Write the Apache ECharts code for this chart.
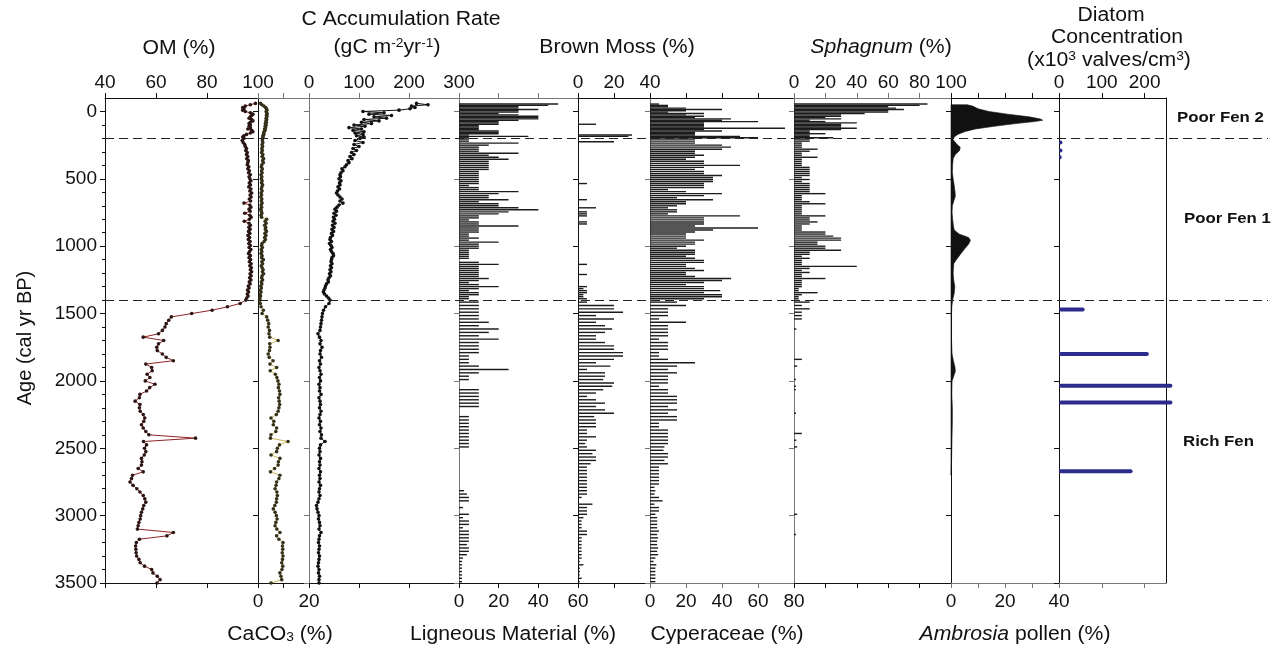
<!DOCTYPE html>
<html>
<head>
<meta charset="utf-8">
<script src="https://cdn.jsdelivr.net/npm/echarts@6/dist/echarts.min.js"></script>
<style>
html,body{margin:0;padding:0;background:#fff}
#chart{width:1288px;height:647px}
</style>
</head>
<body>
<div id="chart"></div>
<script>
// ---------- Core profile data: [age (cal yr BP), value] ----------
const organicMatter = [
[-60,99],[-50,97],[-40,95],[-30,94],[-20,94.5],[-10,94],[0,95],[10,97],[20,98],[30,97.5],[40,97],[50,96.5],[60,97.5],[70,98],[80,97],[90,96.5],[100,97],[110,96.5],[120,97],[130,96],[140,97.5],[150,98],[160,97],[170,95.5],[180,94.5],[190,94],[200,94.5],
[215,93.8],[230,94.2],[245,94.8],[260,95],[275,95.5],[290,95.2],[305,95.8],[320,95.5],[335,96],[350,95.6],[365,96.2],[380,96],[395,95.8],[410,96.4],[425,96],[440,96.6],[455,96.3],[470,97],[485,96.5],[500,96.8],[515,97.2],[530,96.6],[545,97],[560,96.4],[575,97.2],[590,96.8],[605,97.5],[620,96.9],[635,97.3],[650,96.6],[665,97.1],[680,94.5],[695,96.8],[710,97.2],[725,96.5],[740,96.9],[755,94.8],[770,96.8],[785,97.3],[800,96.6],[815,94.6],[830,96.5],[845,97],[860,96.4],[875,96.9],[890,96.3],[905,96.8],[920,96.1],[935,96.7],[950,96.2],[965,96.9],[980,96.4],[995,97],[1010,96.5],[1025,97.2],[1040,96.7],[1055,96.3],[1070,97],[1085,96.5],[1100,97.1],[1115,96.6],[1130,97.3],[1145,96.8],[1160,97.4],[1175,97],[1190,97.5],[1205,96.9],[1220,97.3],[1235,96.7],[1250,97.2],[1265,96.6],[1280,96.9],[1295,96.2],[1310,96.5],[1325,95.9],[1340,96.3],[1355,95.8],[1370,96.1],[1385,95.6],[1400,95.2],
[1425,93],[1450,88],[1475,82],[1500,74],[1525,66],[1550,65],[1575,64],[1600,63.5],[1625,62.5],[1650,61],[1675,55],[1700,63],[1725,61],[1750,60.3],[1775,60.5],[1800,62.5],[1825,64],[1850,66.8],[1875,56],[1900,58.3],[1925,58.5],[1950,56.5],[1975,57.6],[2000,55.8],[2025,59.6],[2050,57.5],[2075,56.3],[2100,53.7],[2125,53.5],[2150,51.8],[2175,53.7],[2200,53.5],[2225,53.8],[2250,55],[2275,55.6],[2300,55.2],[2325,54.3],[2350,55],[2375,56],[2400,57.2],[2425,75.5],[2450,55.1],[2475,56.3],[2500,55.5],[2525,56],[2550,55.4],[2575,54.3],[2600,54.5],[2625,54.3],[2650,53],[2675,55],[2700,50.8],[2725,50.4],[2750,49.8],[2775,51],[2800,52.5],[2825,53.7],[2850,55],[2875,55.6],[2900,56],[2925,55.2],[2950,54.8],[2975,54.3],[3000,54],[3025,53.8],[3050,53.3],[3075,53],[3100,52.7],[3125,66.8],[3150,64.3],[3175,53.5],[3200,52.3],[3225,52],[3250,52.1],[3275,52.2],[3300,52.4],[3325,53.3],[3350,53.8],[3375,55.5],[3400,58.3],[3425,58.8],[3450,60.5],[3475,61.6],[3500,60.4]
];

const caco3 = [
[-60,1],[-50,1.5],[-40,2.3],[-30,3],[-20,3.3],[-10,3.5],[0,3.2],[10,3.4],[20,3.6],[30,3.3],[40,3.5],[50,3.2],[60,3.4],[70,3.1],[80,3.3],[90,2.9],[100,3.2],[110,2.8],[120,3],[130,2.6],[140,2.8],[150,2.4],[160,2.2],[170,2.3],[180,1.9],[190,2],[200,1.8],
[215,1.7],[230,1.9],[245,1.6],[260,1.8],[275,1.5],[290,1.7],[305,1.4],[320,1.9],[335,1.6],[350,2.2],[365,1.8],[380,2.1],[395,1.5],[410,1.3],[425,1.7],[440,1.4],[455,1.6],[470,1.2],[485,1.5],[500,1.3],[515,1.6],[530,1.4],[545,1.8],[560,1.5],[575,1.3],[590,1.6],[605,1.2],[620,1.4],[635,1.1],[650,1.5],[665,1.3],[680,1.6],[695,1.2],[710,1.4],[725,1.1],[740,1.3],[755,1.5],[770,1.2],[785,1.4],[800,3.4],[815,2.8],[830,3.2],[845,2.6],[860,3],[875,2.9],[890,3.3],[905,2.7],[920,3.1],[935,2.6],[950,2.9],[965,2.4],[980,1.6],[995,1.4],[1010,1.7],[1025,1.3],[1040,1.5],[1055,1.2],[1070,1.6],[1085,1.4],[1100,2.1],[1115,1.5],[1130,1.8],[1145,1.3],[1160,1.6],[1175,2],[1190,1.7],[1205,2.2],[1220,1.6],[1235,1.4],[1250,1.8],[1265,1.3],[1280,1.5],[1295,1.1],[1310,1.3],[1325,0.9],[1340,1.2],[1355,0.8],[1370,1],[1385,0.7],[1400,0.8],
[1425,0.9],[1450,1.2],[1475,2.1],[1500,1.6],[1525,3.4],[1550,3.8],[1575,4.2],[1600,4],[1625,4.5],[1650,4.3],[1675,4.6],[1700,7.9],[1725,4.6],[1750,4.7],[1775,4.5],[1800,4],[1825,4.4],[1850,5.9],[1875,4.7],[1900,7.3],[1925,4.8],[1950,6.8],[1975,7.4],[2000,7.8],[2025,8.2],[2050,8],[2075,8.4],[2100,8.6],[2125,8.1],[2150,8.3],[2175,8.5],[2200,8.2],[2225,7.9],[2250,7.2],[2275,5.1],[2300,6.2],[2325,6],[2350,7.3],[2375,7],[2400,5.1],[2425,4.9],[2450,11.8],[2475,8.4],[2500,7.6],[2525,7.3],[2550,5.1],[2575,8.6],[2600,8],[2625,7.9],[2650,6.5],[2675,4.9],[2700,8.6],[2725,8.2],[2750,7.3],[2775,7.1],[2800,6.7],[2825,7.4],[2850,7.6],[2875,7.3],[2900,7.2],[2925,6.6],[2950,6],[2975,6.7],[3000,7.2],[3025,7.5],[3050,7],[3075,6.7],[3100,7.4],[3125,8.6],[3150,7.3],[3175,8.2],[3200,9.8],[3225,9.6],[3250,9.7],[3275,9.5],[3300,9.8],[3325,9.6],[3350,9.3],[3375,9.7],[3400,9.4],[3425,8.6],[3450,9],[3475,9.3],[3500,5.1]
];

const carbonRate = [
[-60,215],[-50,238],[-40,205],[-30,212],[-20,202],[-10,180],[0,108],[10,150],[20,120],[30,165],[40,130],[50,155],[60,110],[70,140],[80,105],[90,125],[100,90],[110,112],[120,80],[130,105],[140,88],[150,110],[160,92],[170,108],[180,95],[190,110],[200,102],
[215,92],[230,108],[245,90],[260,100],[275,88],[290,95],[305,85],[320,90],[335,82],[350,86],[365,78],[380,80],[395,75],[410,72],[425,66],[440,68],[455,64],[470,62],[485,63],[500,60],[515,64],[530,61],[545,62],[560,58],[575,61],[590,57],[605,55],[620,58],[635,62],[650,66],[665,62],[680,68],[695,60],[710,56],[725,52],[740,55],[755,50],[770,54],[785,49],[800,51],[815,48],[830,52],[845,47],[860,50],[875,46],[890,49],[905,45],[920,47],[935,43],[950,42],[965,45],[980,41],[995,44],[1010,46],[1025,43],[1040,45],[1055,48],[1070,49],[1085,46],[1100,45],[1115,44],[1130,46],[1145,43],[1160,45],[1175,42],[1190,44],[1205,41],[1220,43],[1235,40],[1250,38],[1265,38.7],[1280,35],[1295,33],[1310,32],[1325,30],[1340,28.7],[1355,31],[1370,35],[1385,39],[1400,42],
[1425,40],[1450,33],[1475,29],[1500,27],[1525,26],[1550,25],[1575,24],[1600,23],[1625,22],[1650,18],[1675,21],[1700,24],[1725,22],[1750,26],[1775,23],[1800,22],[1825,25],[1850,21],[1875,23],[1900,20],[1925,22],[1950,24],[1975,21],[2000,23],[2025,20],[2050,22],[2075,21],[2100,24],[2125,20],[2150,22],[2175,23],[2200,21],[2225,24],[2250,22],[2275,20],[2300,23],[2325,21],[2350,24],[2375,22],[2400,25],[2425,24],[2450,32],[2475,23],[2500,21],[2525,22],[2550,20],[2575,23],[2600,21],[2625,22],[2650,20],[2675,23],[2700,21],[2725,22],[2750,20],[2775,23],[2800,21],[2825,20],[2850,22],[2875,20],[2900,18],[2925,15],[2950,16],[2975,18],[3000,20],[3025,19],[3050,21],[3075,22],[3100,20],[3125,24],[3150,21],[3175,20],[3200,19],[3225,21],[3250,20],[3275,19],[3300,21],[3325,20],[3350,19],[3375,18],[3400,20],[3425,19],[3450,21],[3475,20],[3500,20]
];

const ligneous = [
[-55,50],[-45,45],[-35,30],[-25,30],[-15,40],[-5,30],[5,30],[15,20],[25,30],[35,40],[45,40],[55,40],[65,30],[75,20],[85,20],[95,20],[105,10],[115,10],[125,10],[135,10],[145,20],[155,20],[165,20],[175,5],[185,35],[195,5],
[205,5],[220,5],[235,30],[250,15],[265,10],[280,10],[295,10],[310,30],[325,15],[340,20],[355,25],[370,15],[385,15],[400,15],[415,15],[430,15],[445,10],[460,10],[475,10],[490,10],[505,10],[520,10],[535,10],[550,5],[565,10],[580,10],[595,30],[610,20],[625,15],[640,15],[655,25],[670,10],[685,20],[700,20],[715,30],[730,40],[745,25],[760,20],[775,10],[790,10],[805,5],[820,10],[835,10],[850,30],[865,10],[880,10],[895,10],[910,5],[925,5],[940,10],[955,5],[970,20],[985,10],[1000,10],[1015,10],[1030,5],[1045,5],[1060,5],[1075,5],[1090,5],[1105,0],[1120,10],[1135,20],[1150,10],[1165,10],[1180,10],[1195,10],[1210,10],[1225,10],[1240,15],[1255,10],[1270,5],[1285,10],[1300,20],[1315,10],[1330,5],[1345,10],[1360,10],[1375,5],[1390,5],
[1415,10],[1440,10],[1465,10],[1490,10],[1515,10],[1540,10],[1565,15],[1590,10],[1615,20],[1640,15],[1665,10],[1690,20],[1715,10],[1740,10],[1765,10],[1790,10],[1815,5],[1840,5],[1865,5],[1890,10],[1915,25],[1940,10],[1965,5],[1990,5],[2015,0],[2040,0],[2065,10],[2090,10],[2115,10],[2140,10],[2165,10],[2190,10],[2215,0],[2240,0],[2265,5],[2290,5],[2315,5],[2340,5],[2365,5],[2390,5],[2415,5],[2440,5],[2465,5],[2490,5],[2515,0],[2540,0],[2565,0],[2590,0],[2615,0],[2640,0],[2665,0],[2690,0],[2715,0],[2740,0],[2765,0],[2790,0],[2815,2.5],[2840,4],[2865,5],[2890,5],[2915,0],[2940,2],[2965,0],[2990,5],[3015,2],[3040,5],[3065,5],[3090,2],[3115,5],[3140,5],[3165,5],[3190,5],[3215,4],[3240,5],[3265,5],[3290,4],[3315,2],[3340,1.5],[3365,1.5],[3390,1.5],[3415,1.5],[3440,1.5],[3465,1.5],[3490,1.5]
];

const brownMoss = [
[95,10],[175,30],[185,28],[225,20],[535,5],[655,5],[715,10],[745,5],[760,5],[775,5],[820,5],[835,5],[1135,5],[1210,5],[1300,5],[1315,3],[1330,5],[1345,5],[1360,3],[1375,3],[1390,5],
[1415,5],[1440,20],[1465,20],[1490,25],[1515,10],[1540,20],[1565,10],[1590,15],[1615,19],[1640,15],[1665,10],[1690,10],[1715,15],[1740,20],[1765,20],[1790,25],[1815,25],[1840,20],[1865,10],[1890,18],[1915,5],[1940,15],[1965,15],[1990,14],[2015,20],[2040,19],[2065,14],[2090,10],[2115,5],[2140,10],[2165,15],[2190,10],[2215,15],[2240,20],[2265,9],[2290,10],[2315,10],[2340,10],[2365,5],[2390,5],[2415,10],[2440,5],[2465,4],[2490,5],[2515,10],[2540,8],[2565,10],[2590,10],[2615,7],[2640,5],[2665,5],[2690,5],[2715,5],[2740,5],[2765,5],[2790,5],[2815,5],[2840,5],[2865,2],[2915,8],[2940,5],[2965,5],[2990,5],[3015,3],[3040,2],[3065,2],[3090,2],[3115,5],[3140,5],[3165,2],[3190,2],[3215,2],[3240,2],[3265,2],[3290,2],[3315,2],[3340,1],[3365,3],[3390,1],[3415,1],[3440,1],[3465,2],[3490,1]
];

const cyperaceae = [
[-55,5],[-45,10],[-35,10],[-25,20],[-15,40],[-5,20],[5,10],[15,30],[25,20],[35,30],[45,25],[55,45],[65,40],[75,60],[85,30],[95,30],[105,30],[115,30],[125,75],[135,30],[145,40],[155,25],[165,25],[175,25],[185,50],[195,60],
[205,25],[220,25],[235,25],[250,40],[265,45],[280,40],[295,25],[310,25],[325,30],[340,25],[355,20],[370,30],[385,30],[400,50],[415,30],[430,25],[445,30],[460,30],[475,40],[490,35],[505,35],[520,35],[535,30],[550,30],[565,30],[580,10],[595,20],[610,40],[625,30],[640,15],[655,35],[670,20],[685,20],[700,15],[715,10],[730,15],[745,15],[760,10],[775,50],[790,30],[805,30],[820,30],[835,30],[850,25],[865,60],[880,35],[895,25],[910,20],[925,20],[940,20],[955,30],[970,25],[985,25],[1000,20],[1015,15],[1030,25],[1045,25],[1060,25],[1075,20],[1090,25],[1105,30],[1120,30],[1135,20],[1150,20],[1165,25],[1180,30],[1195,20],[1210,20],[1225,25],[1240,45],[1255,40],[1270,30],[1285,20],[1300,30],[1315,30],[1330,39],[1345,30],[1360,40],[1375,40],[1390,30],
[1415,15],[1440,20],[1465,10],[1490,10],[1515,10],[1540,5],[1565,20],[1590,10],[1615,10],[1640,10],[1665,10],[1690,5],[1715,10],[1740,10],[1765,10],[1790,5],[1815,5],[1840,10],[1865,25],[1890,15],[1915,10],[1940,15],[1965,10],[1990,10],[2015,10],[2040,5],[2065,10],[2090,10],[2115,15],[2140,15],[2165,15],[2190,10],[2215,15],[2240,10],[2265,15],[2290,15],[2315,5],[2340,5],[2365,10],[2390,10],[2415,10],[2440,10],[2465,10],[2490,8],[2515,7.5],[2540,10],[2565,10],[2590,8],[2615,10],[2640,5],[2665,5],[2690,5],[2715,5],[2740,5],[2765,5],[2790,2.5],[2815,3],[2840,2.5],[2865,5],[2890,7],[2915,2.5],[2940,5],[2965,5],[2990,3],[3015,4],[3040,4],[3065,4],[3090,4],[3115,5],[3140,4],[3165,4.5],[3190,4],[3215,4],[3240,4.5],[3265,4],[3290,4.5],[3315,3],[3340,2],[3365,3.5],[3390,3],[3415,3],[3440,3],[3465,3],[3490,3]
];

const sphagnum = [
[-55,85],[-45,80],[-35,60],[-25,65],[-15,70],[-5,60],[5,60],[15,45],[25,30],[35,30],[45,20],[55,30],[65,10],[75,20],[85,40],[95,30],[105,30],[115,30],[125,40],[135,30],[145,10],[155,10],[165,20],[175,10],[185,10],[195,25],
[205,10],[220,10],[235,5],[250,5],[265,5],[280,15],[295,10],[310,5],[325,5],[340,15],[355,5],[370,5],[385,5],[400,5],[415,10],[430,10],[445,10],[460,10],[475,10],[490,5],[505,10],[520,5],[535,10],[550,10],[565,10],[580,10],[595,10],[610,20],[625,5],[640,5],[655,5],[670,10],[685,20],[700,5],[715,5],[730,5],[745,5],[760,5],[775,20],[790,10],[805,10],[820,15],[835,10],[850,5],[865,5],[880,5],[895,20],[910,20],[925,25],[940,30],[955,30],[970,15],[985,15],[1000,20],[1015,20],[1030,30],[1045,10],[1060,10],[1075,5],[1090,10],[1105,5],[1120,5],[1135,5],[1150,40],[1165,10],[1180,5],[1195,10],[1210,5],[1225,5],[1240,20],[1255,5],[1270,5],[1285,5],[1300,5],[1315,3],[1330,3],[1345,15],[1360,5],[1375,3],[1390,3],
[1415,10],[1440,5],[1465,10],[1490,5],[1515,5],[1540,5],[1615,1.5],[1840,5],[1890,2],[1990,1.2],[2040,1.2],[2065,1.2],[2240,1.2],[2390,5],[2440,1.5],[2490,2],[2990,2],[3140,1.2]
];

const ambrosia = [
[-50,6],[-40,8],[-20,10],[0,14],[20,21],[40,29],[55,33],[65,34],[75,31],[90,24],[110,16],[130,9],[150,5],[170,2.5],[190,1.2],[210,0.8],[240,2],[265,3.4],[290,3.2],[320,1.6],[350,0.8],[400,0.6],[450,0.5],[500,0.8],[550,1.2],[600,1.5],[630,1.6],[660,1.1],[700,0.5],[750,0.4],[800,0.6],[850,0.9],[880,1.2],[910,3],[935,6.5],[955,7.2],[985,6.5],[1020,5],[1060,3.5],[1100,2],[1130,1],[1200,0.8],[1250,1],[1300,1.4],[1350,1.2],[1400,0.6],[1450,0.3],[1500,0.2],[1600,0.2],[1700,0.2],[1800,0.4],[1850,0.9],[1900,1.5],[1930,1.6],[1960,1.1],[2000,0.4],[2100,0.3],[2200,0.5],[2300,0.5],[2400,0.4],[2500,0.3],[2600,0.2],[2660,0.1],[2700,0]
];

const diatoms = [
[230,8],[290,8],[340,6],[1470,60],[1800,210],[2035,265],[2160,265],[2670,172]
];

// Zone boundaries and names
const zoneBoundaries = [200, 1400];
const zoneNames = ['Poor Fen 2', 'Poor Fen 1', 'Rich Fen'];

// ---------- Tick values ----------
const ageTicks = [0, 500, 1000, 1500, 2000, 2500, 3000, 3500];
const ageMinorTicks = [100,200,300,400,600,700,800,900,1100,1200,1300,1400,1600,1700,1800,1900,2100,2200,2300,2400,2600,2700,2800,2900,3100,3200,3300,3400];
const omTicks = [40, 60, 80, 100];
const caco3Labels = [0, 20];
const caco3Ticks = [0, 10, 20];
const carbonTicks = [0, 100, 200, 300];
const ligneousTicks = [0, 20, 40, 60];
const brownMossTicks = [0, 20, 40];
const cyperTicks = [0, 20, 40, 60, 80];
const sphagnumTicks = [0, 20, 40, 60, 80, 100];
const ambrosiaLabels = [0, 20, 40];
const ambrosiaTicks = [0, 10, 20, 30, 40];
const diatomTicks = [0, 100, 200];

// ---------- Layout ----------
const FONT = '"Liberation Sans", Arial, Helvetica, sans-serif';
const DARK = '#111';
const GREY = '#777';
const PLOT_TOP = 98, PLOT_H = 485;

const panels = [
  { left: 105,  width: 153, min: 40, max: 100, side: 'top',    labels: omTicks,        ticks: omTicks,        topC: DARK, botC: DARK, axC: DARK },
  { left: 258,  width: 51,  min: 0,  max: 20,  side: 'bottom', labels: caco3Labels,    ticks: caco3Ticks,     topC: GREY, botC: DARK, axC: DARK },
  { left: 309,  width: 150, min: 0,  max: 300, side: 'top',    labels: carbonTicks,    ticks: carbonTicks,    topC: GREY, botC: DARK, axC: GREY },
  { left: 459,  width: 119, min: 0,  max: 60,  side: 'bottom', labels: ligneousTicks,  ticks: ligneousTicks,  topC: GREY, botC: DARK, axC: GREY },
  { left: 578,  width: 72,  min: 0,  max: 40,  side: 'top',    labels: brownMossTicks, ticks: brownMossTicks, topC: DARK, botC: DARK, axC: DARK },
  { left: 650,  width: 144, min: 0,  max: 80,  side: 'bottom', labels: cyperTicks,     ticks: cyperTicks,     topC: DARK, botC: GREY, axC: GREY },
  { left: 794,  width: 157, min: 0,  max: 100, side: 'top',    labels: sphagnumTicks,  ticks: sphagnumTicks,  topC: GREY, botC: DARK, axC: GREY },
  { left: 951,  width: 108, min: 0,  max: 40,  side: 'bottom', labels: ambrosiaLabels, ticks: ambrosiaTicks,  topC: DARK, botC: GREY, axC: DARK },
  { left: 1059, width: 107, min: 0,  max: 250, side: 'top',    labels: diatomTicks,    ticks: diatomTicks,    topC: DARK, botC: GREY, axC: DARK }
];

const plain = v => String(v);
const labelStyle = { fontSize: 19, fontFamily: FONT, color: DARK, formatter: plain };
const grid = [], xAxis = [], yAxis = [], series = [];

panels.forEach((p, i) => {
  grid.push({ left: p.left, width: p.width, top: PLOT_TOP, height: PLOT_H });
  ['top', 'bottom'].forEach(pos => {
    const color = pos === 'top' ? p.topC : p.botC;
    const labelled = pos === p.side;
    xAxis.push({
      type: 'value', gridIndex: i, position: pos, min: p.min, max: p.max,
      axisLine: { show: true, onZero: false, lineStyle: { color, width: 1 } },
      axisTick: { show: true, length: 5, customValues: p.ticks, lineStyle: { color, width: 1 } },
      axisLabel: Object.assign({ show: labelled, customValues: p.labels, margin: pos === 'top' ? 6 : 9 }, labelStyle),
      splitLine: { show: false }
    });
  });
  yAxis.push({
    type: 'value', gridIndex: i, position: 'left', inverse: true, min: -100, max: 3500,
    axisLine: { show: true, onZero: false, lineStyle: { color: p.axC, width: 1 } },
    axisTick: { show: true, length: 5, customValues: ageTicks, lineStyle: { color: p.axC, width: 1 } },
    axisLabel: Object.assign({ show: i === 0, customValues: ageTicks, margin: 8 }, labelStyle),
    splitLine: { show: false }
  });
});

// minor age ticks on the main axis
yAxis.push({
  type: 'value', gridIndex: 0, position: 'left', inverse: true, min: -100, max: 3500,
  axisLine: { show: false, onZero: false },
  axisTick: { show: true, length: 3, customValues: ageMinorTicks, lineStyle: { color: DARK, width: 1 } },
  axisLabel: { show: false }, splitLine: { show: false }
});
// right frame of the last panel
yAxis.push({
  type: 'value', gridIndex: 8, position: 'right', inverse: true, min: -100, max: 3500,
  axisLine: { show: true, onZero: false, lineStyle: { color: DARK, width: 1 } },
  axisTick: { show: false }, axisLabel: { show: false }, splitLine: { show: false }
});
// overlay spanning all panels for zone boundaries
grid.push({ left: 105, width: 1163, top: PLOT_TOP, height: PLOT_H });
xAxis.push({ type: 'value', gridIndex: 9, min: 0, max: 1, show: false });
yAxis.push({ type: 'value', gridIndex: 9, inverse: true, min: -100, max: 3500, show: false });

const toXY = arr => arr.map(([age, v]) => [v, age]);

function profileLine(panel, data, lineColor, dotColor) {
  return {
    type: 'line', xAxisIndex: panel * 2, yAxisIndex: panel, data: toXY(data),
    symbol: 'circle', symbolSize: 3.6, showSymbol: true,
    lineStyle: { color: lineColor, width: 1 },
    itemStyle: { color: dotColor },
    emphasis: { disabled: true }, z: 3
  };
}

function barProfile(panel, data, color, thickness, rounded) {
  return {
    type: 'custom', xAxisIndex: panel * 2, yAxisIndex: panel, data: toXY(data),
    encode: { x: 0, y: 1 },
    renderItem: (params, api) => {
      const v = api.value(0), age = api.value(1);
      if (!v) return null;
      const a = api.coord([0, age]), b = api.coord([v, age]);
      return {
        type: 'rect',
        shape: { x: a[0], y: a[1] - thickness / 2, width: b[0] - a[0], height: thickness, r: rounded ? thickness / 2 : 0 },
        style: { fill: color }
      };
    },
    z: 2
  };
}

series.push(profileLine(0, organicMatter, '#8e2424', '#2b1414'));
series.push(profileLine(1, caco3, '#c8b455', '#34301a'));
series.push(profileLine(2, carbonRate, '#111', '#111'));
series.push(barProfile(3, ligneous, '#1c1c1c', 1.4));
series.push(barProfile(4, brownMoss, '#1c1c1c', 1.4));
series.push(barProfile(5, cyperaceae, '#1c1c1c', 1.4));
series.push(barProfile(6, sphagnum, '#1c1c1c', 1.4));
series.push({
  type: 'custom', xAxisIndex: 14, yAxisIndex: 7, data: [[0, 0]],
  renderItem: (params, api) => {
    const first = ambrosia[0][0], last = ambrosia[ambrosia.length - 1][0];
    const pts = [api.coord([0, first])]
      .concat(ambrosia.map(([age, v]) => api.coord([v, age])))
      .concat([api.coord([0, last])]);
    return { type: 'polygon', shape: { points: pts }, style: { fill: '#111', stroke: '#111', lineWidth: 0.6 } };
  },
  z: 2
});
series.push(barProfile(8, diatoms, '#2d2c8c', 4, true));
series.push({
  type: 'line', xAxisIndex: 18, yAxisIndex: 11, data: [[0, -100]], showSymbol: false,
  lineStyle: { opacity: 0 },
  markLine: {
    silent: true, symbol: 'none', label: { show: false },
    lineStyle: { color: '#222', width: 1, type: [9, 5] },
    data: zoneBoundaries.map(y => ({ yAxis: y }))
  },
  z: 5
});

// ---------- Titles ----------
function txt(x, y, rich, extra) {
  return Object.assign({
    type: 'text', x, y, scaleX: 1.06,
    style: { text: rich, align: 'center', verticalAlign: 'middle', textAlign: 'center', textVerticalAlign: 'middle', rich: RICH }
  }, extra || {});
}
const base = { fontSize: 20, fontFamily: FONT, fill: DARK, color: DARK };
const RICH = {
  n: Object.assign({}, base),
  i: Object.assign({ fontStyle: 'italic' }, base),
  s: { fontSize: 13, fontFamily: FONT, fill: DARK, color: DARK, verticalAlign: 'top' },
  b: { fontSize: 13, fontFamily: FONT, fill: DARK, color: DARK, verticalAlign: 'bottom' }
};

const zoneLabel = (x, y, text) => ({
  type: 'text', x, y, scaleX: 1.2,
  style: { text, fontSize: 14, fontWeight: 'bold', fontFamily: FONT, fill: DARK, align: 'left', verticalAlign: 'middle', textAlign: 'left', textVerticalAlign: 'middle' }
});

const graphic = [
  txt(179, 48, '{n|OM (%)}'),
  txt(401, 19, '{n|C Accumulation Rate}'),
  txt(387, 47, '{n|(gC m}{s|-2}{n|yr}{s|-1}{n|)}'),
  txt(617, 47, '{n|Brown Moss (%)}'),
  txt(881, 47, '{i|Sphagnum}{n| (%)}'),
  txt(1111, 15, '{n|Diatom}'),
  txt(1117, 37, '{n|Concentration}'),
  txt(1109, 60, '{n|(x10}{s|3}{n| valves/cm}{s|3}{n|)}'),
  txt(280, 634, '{n|CaCO}{b|3}{n| (%)}'),
  txt(513, 634, '{n|Ligneous Material (%)}'),
  txt(727, 634, '{n|Cyperaceae (%)}'),
  txt(1015, 634, '{i|Ambrosia}{n| pollen (%)}'),
  txt(25, 338, '{n|Age (cal yr BP)}', { rotation: Math.PI / 2, scaleX: 1 }),
  zoneLabel(1177, 118, zoneNames[0]),
  zoneLabel(1184, 219, zoneNames[1]),
  zoneLabel(1183, 442, zoneNames[2])
];

const chart = echarts.init(document.getElementById('chart'), null, { renderer: 'canvas' });
chart.setOption({
  animation: false,
  backgroundColor: '#fff',
  grid, xAxis, yAxis, series, graphic
});
</script>
</body>
</html>
